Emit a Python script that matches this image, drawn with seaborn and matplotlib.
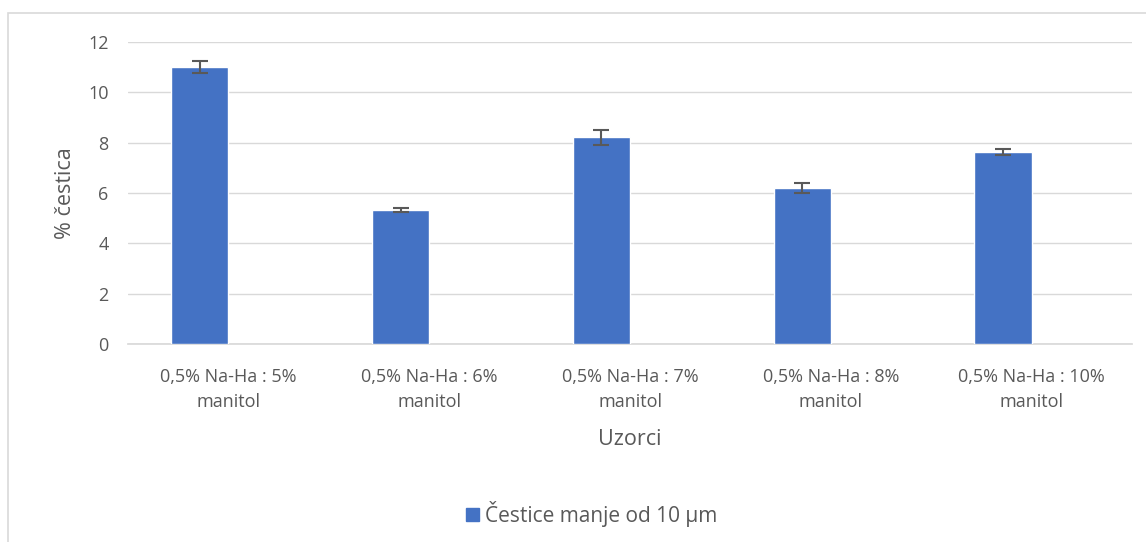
import matplotlib
matplotlib.use("Agg")
import matplotlib.pyplot as plt
import seaborn as sns
import pandas as pd
import numpy as np
from matplotlib.patches import Rectangle, Patch

categories = ["0,5% Na-Ha : 5%\nmanitol", "0,5% Na-Ha : 6%\nmanitol", "0,5% Na-Ha : 7%\nmanitol",
              "0,5% Na-Ha : 8%\nmanitol", "0,5% Na-Ha : 10%\nmanitol"]
values = [11.0, 5.32, 8.22, 6.2, 7.63]
errors = [0.24, 0.07, 0.30, 0.19, 0.11]
series_name = "Čestice manje od 10 µm"
empty_series = "(prazno)"

sns.set_theme(style="white")
plt.rcParams['font.family'] = ['Open Sans', 'DejaVu Sans']
txt = "#595959"
blue = "#4472C4"

df = pd.DataFrame({
    "cat": categories * 2,
    "val": values + [np.nan] * len(values),
    "s": [series_name] * len(values) + [empty_series] * len(values),
})
fig = plt.figure(figsize=(11.46, 5.42), dpi=100)
ax = fig.add_axes([128/1146, 1-344/542, (1132-128)/1146, (344-42)/542])

sns.barplot(data=df, x="cat", y="val", hue="s", hue_order=[series_name, empty_series],
            palette=[blue, blue], width=0.57, ax=ax, saturation=1, errorbar=None,
            legend=False, zorder=3)
bars = [p for p in ax.patches if np.isfinite(p.get_height()) and p.get_height() > 0]
bars = sorted(bars, key=lambda p: p.get_x())
xc = [p.get_x() + p.get_width() / 2 for p in bars]
ax.errorbar(xc, values, yerr=errors, fmt="none",
            ecolor="#595959", elinewidth=1.5, capsize=6, capthick=1.5, zorder=4)

ax.set_ylim(0, 12)
ax.set_xlim(-0.5, len(values) - 0.5)
ax.set_yticks(range(0, 13, 2))
ax.yaxis.grid(True, color="#d9d9d9", linewidth=1, zorder=0)
ax.set_axisbelow(True)
for s in ["top", "right", "left"]:
    ax.spines[s].set_visible(False)
ax.spines["bottom"].set_color("#d9d9d9")
ax.tick_params(axis="both", colors=txt, labelsize=13, length=0)
ax.tick_params(axis="y", pad=14)
ax.tick_params(axis="x", pad=17)
for lab in ax.get_xticklabels():
    lab.set_linespacing(1.55)
ax.set_xlabel("Uzorci", color=txt, fontsize=15.5, labelpad=13)
ax.set_ylabel("% čestica", color=txt, fontsize=15.5, labelpad=9)

fig.legend(handles=[Patch(color=blue, label=series_name)], loc="center",
           bbox_to_anchor=(592/1146, 1-514/542), frameon=False, fontsize=15,
           handlelength=0.6, handleheight=0.6, handletextpad=0.3, labelcolor=txt)

fig.patches.append(Rectangle((8/1146, -0.05), 1.0, 1.05-13/542, transform=fig.transFigure,
                             fill=False, edgecolor="#d9d9d9", linewidth=1.2))

fig.savefig("out.png", dpi=100)
